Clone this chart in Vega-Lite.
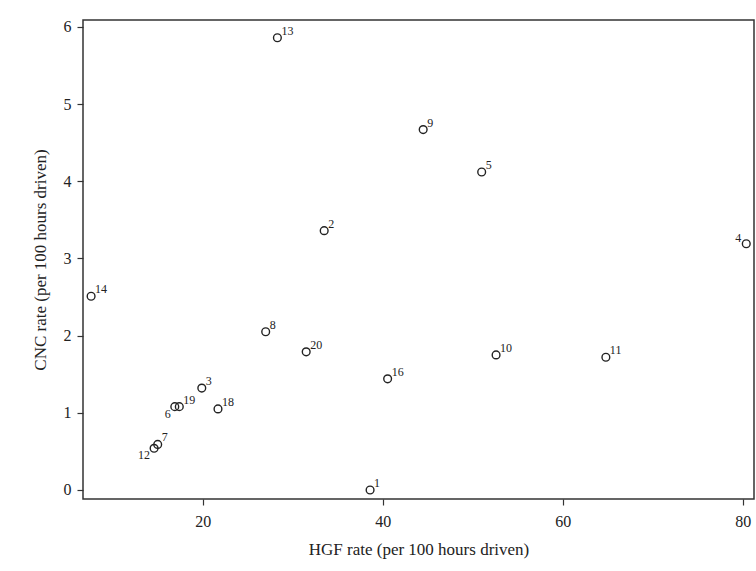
{
  "$schema": "https://vega.github.io/schema/vega-lite/v6.json",
  "width": 671,
  "height": 479,
  "autosize": {"type": "none"},
  "padding": {"left": 83, "top": 20, "right": 2, "bottom": 72},
  "background": "white",
  "config": {
    "view": {"stroke": "#333333", "strokeWidth": 1.5},
    "font": "Liberation Serif",
    "axis": {
      "domain": false,
      "grid": false,
      "tickColor": "#333333",
      "tickSize": 6,
      "tickWidth": 1.2,
      "labelFont": "Liberation Serif",
      "labelFontSize": 16,
      "labelColor": "#222222",
      "titleFont": "Liberation Serif",
      "titleFontSize": 17,
      "titleFontWeight": "normal",
      "titleColor": "#222222"
    }
  },
  "data": {
    "values": [
      {"id": "1", "hgf": 38.6, "cnc": 0.0, "pos": "ur"},
      {"id": "2", "hgf": 33.5, "cnc": 3.36, "pos": "ur"},
      {"id": "3", "hgf": 19.9, "cnc": 1.32, "pos": "ur"},
      {"id": "4", "hgf": 80.4, "cnc": 3.19, "pos": "ul"},
      {"id": "5", "hgf": 51.0, "cnc": 4.12, "pos": "ur"},
      {"id": "6", "hgf": 16.9, "cnc": 1.08, "pos": "ll"},
      {"id": "7", "hgf": 15.0, "cnc": 0.59, "pos": "ur"},
      {"id": "8", "hgf": 27.0, "cnc": 2.05, "pos": "ur"},
      {"id": "9", "hgf": 44.5, "cnc": 4.67, "pos": "ur"},
      {"id": "10", "hgf": 52.6, "cnc": 1.75, "pos": "ur"},
      {"id": "11", "hgf": 64.8, "cnc": 1.72, "pos": "ur"},
      {"id": "12", "hgf": 14.6, "cnc": 0.54, "pos": "ll"},
      {"id": "13", "hgf": 28.3, "cnc": 5.86, "pos": "ur"},
      {"id": "14", "hgf": 7.6, "cnc": 2.51, "pos": "ur"},
      {"id": "16", "hgf": 40.55, "cnc": 1.44, "pos": "ur"},
      {"id": "18", "hgf": 21.7, "cnc": 1.05, "pos": "ur"},
      {"id": "19", "hgf": 17.4, "cnc": 1.08, "pos": "ur"},
      {"id": "20", "hgf": 31.5, "cnc": 1.79, "pos": "ur"}
    ]
  },
  "encoding": {
    "x": {
      "field": "hgf",
      "type": "quantitative",
      "scale": {"domain": [6.7, 81.26], "nice": false, "zero": false},
      "axis": {"values": [20, 40, 60, 80], "title": "HGF rate (per 100 hours driven)", "labelPadding": 8, "titlePadding": 12}
    },
    "y": {
      "field": "cnc",
      "type": "quantitative",
      "scale": {"domain": [-0.117, 6.09], "nice": false, "zero": false},
      "axis": {"values": [0, 1, 2, 3, 4, 5, 6], "title": "CNC rate (per 100 hours driven)", "labelPadding": 6, "titlePadding": 14}
    }
  },
  "layer": [
    {
      "mark": {"type": "point", "shape": "circle", "filled": false, "stroke": "#222222", "strokeWidth": 1.4, "size": 60, "opacity": 1}
    },
    {
      "transform": [{"filter": "datum.pos === 'ur'"}],
      "mark": {"type": "text", "align": "left", "baseline": "alphabetic", "dx": 4, "dy": -3, "fontSize": 12, "font": "Liberation Serif", "fill": "#222222"},
      "encoding": {"text": {"field": "id"}}
    },
    {
      "transform": [{"filter": "datum.pos === 'ul'"}],
      "mark": {"type": "text", "align": "right", "baseline": "alphabetic", "dx": -5, "dy": -2, "fontSize": 12, "font": "Liberation Serif", "fill": "#222222"},
      "encoding": {"text": {"field": "id"}}
    },
    {
      "transform": [{"filter": "datum.pos === 'll'"}],
      "mark": {"type": "text", "align": "right", "baseline": "alphabetic", "dx": -4, "dy": 11, "fontSize": 12, "font": "Liberation Serif", "fill": "#222222"},
      "encoding": {"text": {"field": "id"}}
    }
  ]
}
